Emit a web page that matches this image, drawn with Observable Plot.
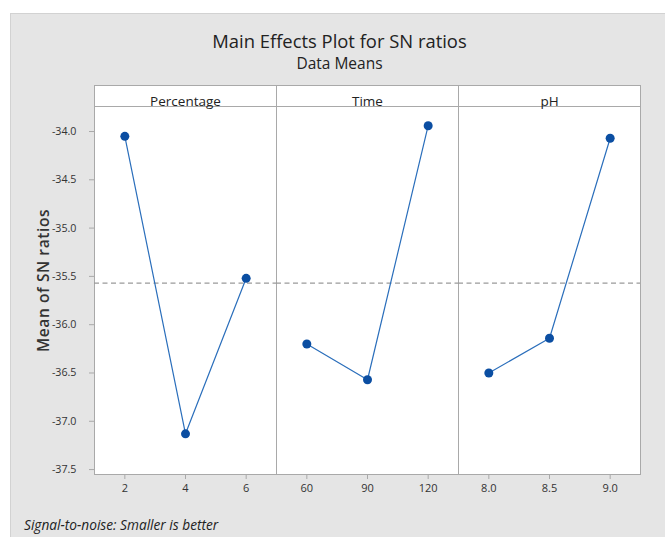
<!DOCTYPE html>
<html>
<head>
<meta charset="utf-8">
<script src="https://cdn.jsdelivr.net/npm/d3@7"></script>
<script src="https://cdn.jsdelivr.net/npm/@observablehq/plot@0.6"></script>
<style>
  html, body { margin: 0; padding: 0; background: #ffffff; overflow: hidden; width: 665px; height: 537px; }
  #bg { position: absolute; left: 10px; top: 13px; width: 655px; height: 524px; background: #e5e5e5; border-left: 1px solid #d2d2d2; border-top: 1px solid #d2d2d2; }
  #stage { position: absolute; left: 0; top: 0; width: 665px; height: 537px; font-family: "Open Sans", "Noto Sans", sans-serif; color: #222; }
  #title { position: absolute; left: 0; width: 679px; top: 31px; text-align: center; font-size: 18.4px; line-height: 19px; white-space: nowrap; }
  #subtitle { position: absolute; left: 0; width: 679px; top: 56px; text-align: center; font-size: 15.5px; line-height: 15.5px; white-space: nowrap; }
  #chart { position: absolute; left: 0; top: 78px; }
  #caption { position: absolute; left: 24px; top: 518px; font-size: 13.7px; line-height: 13.7px; font-style: italic; white-space: nowrap; }
</style>
</head>
<body>
<div id="bg"></div>
<div id="stage">
  <div id="title">Main Effects Plot for SN ratios</div>
  <div id="subtitle">Data Means</div>
  <div id="chart"></div>
  <div id="caption">Signal-to-noise: Smaller is better</div>
</div>
<script>
// ---- data ----
const factors = ["Percentage", "Time", "pH"];
const percentageLevels = ["2", "4", "6"];
const percentageMeans = [-34.05, -37.13, -35.52];
const timeLevels = ["60", "90", "120"];
const timeMeans = [-36.20, -36.57, -33.94];
const phLevels = ["8.0", "8.5", "9.0"];
const phMeans = [-36.50, -36.14, -34.07];
const yTicks = [-34.0, -34.5, -35.0, -35.5, -36.0, -36.5, -37.0, -37.5];
const yLabel = "Mean of SN ratios";

// ---- table ----
const levelSets = [percentageLevels, timeLevels, phLevels];
const meanSets = [percentageMeans, timeMeans, phMeans];
const rows = [];
factors.forEach((f, k) => {
  levelSets[k].forEach((lv, i) => rows.push({factor: f, idx: i + 1, level: lv, mean: meanSets[k][i]}));
});
const grandMean = d3.mean(rows, d => d.mean);

const frameColor = "#a9a9a9";
const yTop = -33.741;

const chart = Plot.plot({
  width: 665,
  height: 432,
  marginTop: 28,
  marginBottom: 36,
  marginLeft: 93,
  marginRight: 25,
  style: {background: "transparent", fontFamily: "'Open Sans', 'Noto Sans', sans-serif", color: "#333", overflow: "visible"},
  fx: {domain: factors, padding: 0, axis: null},
  x: {domain: [0.5, 3.5]},
  y: {domain: [-37.551, yTop]},
  marks: [
    Plot.frame({fill: "white", stroke: frameColor, insetTop: -21}),
    Plot.ruleY([yTop], {stroke: frameColor}),
    Plot.ruleY([grandMean], {stroke: "#9a9a9a", strokeWidth: 1.2, strokeDasharray: "5,3.5"}),
    Plot.axisX({ticks: [1, 2, 3], tickSize: 5, tickFormat: () => "", label: null, stroke: frameColor}),
    Plot.axisY({ticks: yTicks, tickFormat: d => d.toFixed(1), tickSize: 5, tickPadding: 13, fontSize: 10.7, label: null, stroke: frameColor}),
    Plot.text(rows, {fx: "factor", x: "idx", text: "level", frameAnchor: "bottom", dy: 17.7, fontSize: 11, fill: "#333"}),
    Plot.text(factors, {fx: d => d, text: d => d, frameAnchor: "top", dy: -10.5, fontSize: 13.5, fill: "#222"}),
    Plot.text([yLabel], {fx: () => "Percentage", text: d => d, frameAnchor: "left", textAnchor: "middle", rotate: -90, dx: -50, dy: -10, fontSize: 15.5, fontWeight: 600, fill: "#333", style: "letter-spacing:0.6px"}),
    Plot.line(rows, {fx: "factor", x: "idx", y: "mean", stroke: "#2a6ebb", strokeWidth: 1.2}),
    Plot.dot(rows, {fx: "factor", x: "idx", y: "mean", r: 4.5, fill: "#0b4ea2"})
  ]
});
chart.querySelectorAll("text").forEach(t => { if (t.textContent === yLabel) t.style.letterSpacing = "0.6px"; });
document.getElementById("chart").appendChild(chart);
</script>
</body>
</html>
